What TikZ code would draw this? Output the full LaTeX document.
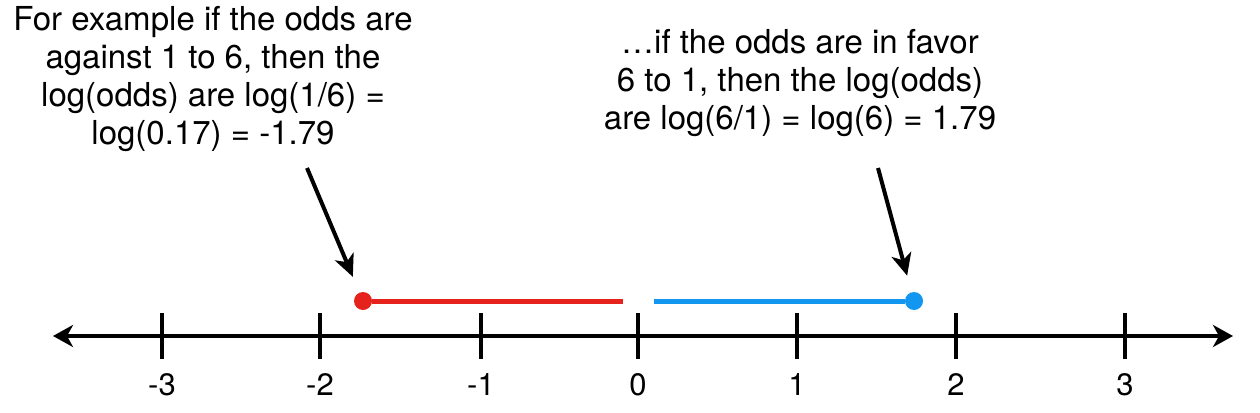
\documentclass[tikz,border=0pt]{standalone}
\usepackage{fontspec}
\setmainfont{TeX Gyre Heros}
\usetikzlibrary{arrows.meta}
\definecolor{oddsred}{RGB}{229,35,28}
\definecolor{oddsblue}{RGB}{18,150,240}
\begin{document}
\begin{tikzpicture}[x=1pt,y=-1pt,
	axistip/.style={line width=4pt,{Stealth[length=20pt,width=22pt,inset=6pt]}-{Stealth[length=20pt,width=22pt,inset=6pt]}},
	tickmark/.style={line width=4pt},
	note/.style={align=center,inner sep=0pt,font=\fontsize{33}{38}\selectfont},
	ticklabel/.style={inner sep=0pt,font=\fontsize{31}{36}\selectfont},
	dot/.style={circle,fill=#1,inner sep=0pt,minimum size=18pt},
	pointer/.style={line width=4pt,-{Stealth[length=22pt,width=20pt,inset=6pt]},shorten >=17pt}]
	\useasboundingbox (0,0) rectangle (1260,412);

	\coordinate (axisleft) at (53,336);
	\coordinate (axisright) at (1233,336);
	\draw[axistip] (axisleft) -- (axisright);

	\foreach \x/\lab [count=\i] in {162/-3,320/-2,481/-1,638/0,797/1,956/2,1125/3}{
		\draw[tickmark] (\x,313) -- (\x,359);
		\node[ticklabel] (tick\i) at (\x,385) {\lab};
	}

	\node[dot=oddsred] (reddot) at (363,301) {};
	\node[dot=oddsblue] (bluedot) at (914,301) {};
	\coordinate (redend) at (623,301);
	\coordinate (bluestart) at (654,301);
	\draw[oddsred,line width=5pt] (reddot) -- (redend);
	\draw[oddsblue,line width=5pt] (bluestart) -- (bluedot);

	\node[note] (against) at (213,79) {For example if the odds are\\against 1 to 6, then the\\log(odds) are log(1/6) =\\log(0.17) = -1.79};
	\node[note] (favor) at (800,83) {…if the odds are in favor\\6 to 1, then the log(odds)\\are log(6/1) = log(6) = 1.79};

	\coordinate (againsttail) at (307,168);
	\coordinate (favortail) at (878,168);
	\draw[pointer] (againsttail) -- (reddot);
	\draw[pointer] (favortail) -- (bluedot);
\end{tikzpicture}
\end{document}
